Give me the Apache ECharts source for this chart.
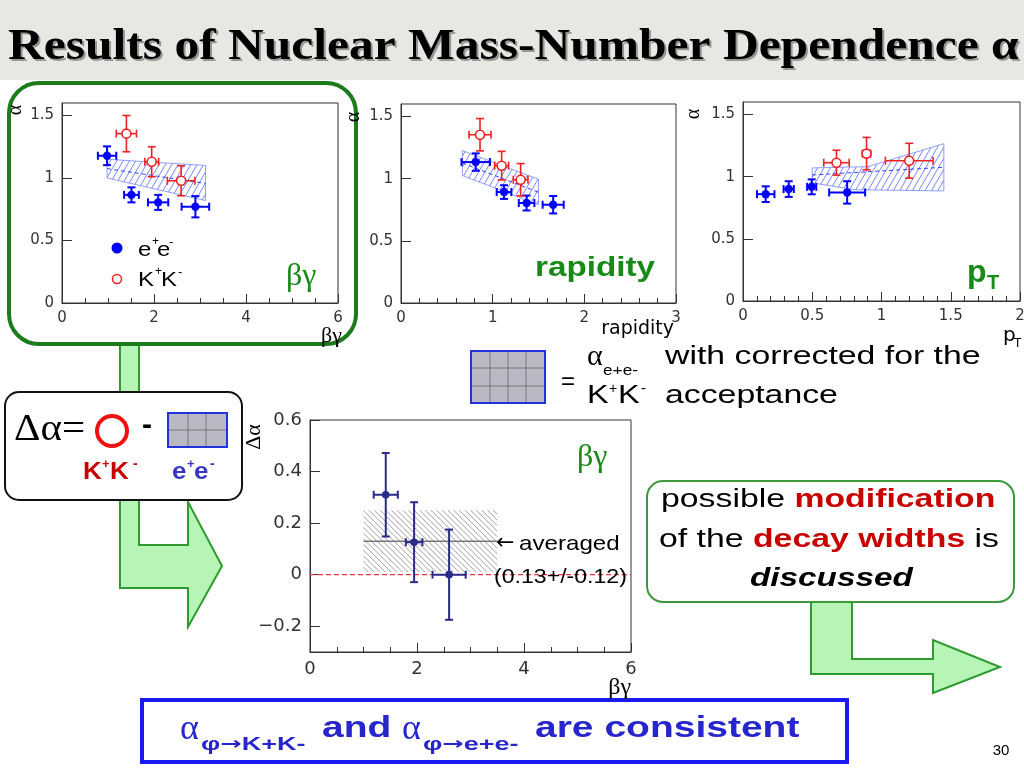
<!DOCTYPE html>
<html><head><meta charset="utf-8">
<script src="https://cdn.jsdelivr.net/npm/echarts@6/dist/echarts.min.js"></script>
<style>html,body{margin:0;padding:0;background:#fff}#c{width:1024px;height:768px}</style>
</head><body><div id="c"></div>
<script>
// ---------- DATA ----------  [x, y, xErr, yErr]
const betaGammaEE = [[0.98,1.178,0.20,0.075],[1.51,0.865,0.16,0.06],[2.09,0.805,0.22,0.06],[2.90,0.77,0.30,0.085]];
const betaGammaKK = [[1.40,1.355,0.22,0.145],[1.95,1.13,0.15,0.12],[2.59,0.978,0.30,0.12]];
const betaGammaBandUpper = [[0.98,1.15],[3.12,1.10]];
const betaGammaBandLower = [[0.98,1.00],[3.12,0.82]];
const betaGammaBandCenter = [[0.98,1.075],[3.12,0.957]];

const rapidityEE = [[0.815,1.133,0.155,0.07],[1.124,0.892,0.08,0.055],[1.37,0.804,0.085,0.06],[1.66,0.79,0.115,0.07]];
const rapidityKK = [[0.862,1.353,0.12,0.13],[1.098,1.104,0.076,0.115],[1.305,0.991,0.08,0.13]];
const rapidityBandUpper = [[0.67,1.225],[1.5,0.995]];
const rapidityBandLower = [[0.67,1.025],[1.5,0.79]];
const rapidityBandCenter = [[0.67,1.125],[1.5,0.89]];

const ptEE = [[0.164,0.859,0.063,0.063],[0.33,0.90,0.037,0.063],[0.496,0.918,0.033,0.06],[0.752,0.873,0.13,0.09]];
const ptKK = [[0.675,1.112,0.092,0.10],[0.892,1.185,0.03,0.13],[1.20,1.128,0.172,0.14]];
const ptBandUpper = [[0.5,1.07],[0.9,1.08],[1.45,1.265]];
const ptBandLower = [[0.5,0.95],[0.8,0.895],[1.45,0.885]];
const ptBandCenter = [[0.5,1.013],[1.45,1.075]];

const deltaAlpha = [[1.416,0.31,0.225,0.162],[1.946,0.126,0.155,0.155],[2.60,0.0,0.31,0.175]];
const averagedValue = 0.13, averagedError = 0.12, averagedRange = [1.0, 3.5];
const zeroLine = [[0,0],[6,0]];

const alphaTicks = [0, 0.5, 1, 1.5];
const deltaTicks = [-0.2, 0, 0.2, 0.4, 0.6];

// ---------- HELPERS ----------
function hatch(poly, angleDeg, spacing){
  const a = angleDeg*Math.PI/180, d = [Math.cos(a), -Math.sin(a)], n = [-d[1], d[0]];
  const cs = poly.map(p => p[0]*n[0]+p[1]*n[1]);
  const cmin = Math.min(...cs), cmax = Math.max(...cs), segs = [];
  for (let c = Math.ceil(cmin/spacing)*spacing; c <= cmax; c += spacing){
    const pts = [];
    for (let i=0;i<poly.length;i++){
      const A = poly[i], B = poly[(i+1)%poly.length];
      const da = A[0]*n[0]+A[1]*n[1]-c, db = B[0]*n[0]+B[1]*n[1]-c;
      if ((da<=0 && db>=0) || (da>=0 && db<=0)){
        if (da === db) continue;
        const t = da/(da-db);
        pts.push([A[0]+(B[0]-A[0])*t, A[1]+(B[1]-A[1])*t]);
      }
    }
    if (pts.length >= 2){
      pts.sort((p,q)=>(p[0]*d[0]+p[1]*d[1])-(q[0]*d[0]+q[1]*d[1]));
      segs.push([pts[0], pts[pts.length-1]]);
    }
  }
  return segs;
}
function bandSeries(gi, upper, lower, opt){
  return {type:'custom', xAxisIndex:gi, yAxisIndex:gi, silent:true, z:2, data:[upper[0]],
    renderItem: function(params, api){
      const poly = upper.concat(lower.slice().reverse()).map(p => api.coord(p));
      const ch = hatch(poly, opt.angle, opt.spacing).map(s => ({type:'line',
        shape:{x1:s[0][0],y1:s[0][1],x2:s[1][0],y2:s[1][1]}, style:{stroke:opt.color, lineWidth:opt.lw}}));
      if (opt.outline) ch.push({type:'polygon', shape:{points:poly}, style:{fill:'none', stroke:opt.outline, lineWidth:0.8}});
      return {type:'group', children:ch};
    }};
}
function errSeries(gi, data, color, open, r, lw){
  return {type:'custom', xAxisIndex:gi, yAxisIndex:gi, silent:true, z:5, data:data, encode:{x:0,y:1},
    renderItem: function(params, api){
      const x=api.value(0), y=api.value(1), ex=api.value(2), ey=api.value(3);
      const c=api.coord([x,y]), l=api.coord([x-ex,y]), rr=api.coord([x+ex,y]), b=api.coord([x,y-ey]), t=api.coord([x,y+ey]);
      const cap=4;
      const seg=(x1,y1,x2,y2)=>({type:'line', shape:{x1,y1,x2,y2}, style:{stroke:color, lineWidth:lw}});
      return {type:'group', children:[
        seg(l[0],c[1],rr[0],c[1]), seg(c[0],b[1],c[0],t[1]),
        seg(l[0],c[1]-cap,l[0],c[1]+cap), seg(rr[0],c[1]-cap,rr[0],c[1]+cap),
        seg(c[0]-cap,b[1],c[0]+cap,b[1]), seg(c[0]-cap,t[1],c[0]+cap,t[1]),
        {type:'circle', shape:{cx:c[0],cy:c[1],r:r}, style: open ? {fill:'#fff', stroke:color, lineWidth:1.6} : {fill:color}}
      ]};
    }};
}
function lineSeries(gi, data, color, width, type){
  return {type:'line', xAxisIndex:gi, yAxisIndex:gi, data:data, symbol:'none', silent:true, z:3,
    lineStyle:{color:color, width:width, type:type}};
}
const AX = '#333';
function xAxis(gi, max, interval, split, fs){
  return {type:'value', gridIndex:gi, min:0, max:max, interval:interval,
    axisLine:{show:true, onZero:false, lineStyle:{color:AX, width:1}},
    axisTick:{show:true, inside:true, length:9, lineStyle:{color:AX}},
    minorTick:{show:true, splitNumber:split, length:5, lineStyle:{color:AX}},
    splitLine:{show:false}, minorSplitLine:{show:false},
    axisLabel:{color:AX, fontSize:fs, fontFamily:'DejaVu Sans', margin:8}};
}
function yAxis(gi, min, max, ticks, fs){
  return {type:'value', gridIndex:gi, min:min, max:max,
    axisLine:{show:true, onZero:false, lineStyle:{color:AX, width:1}},
    axisTick:{show:true, inside:true, length:10, customValues:ticks, lineStyle:{color:AX}},
    splitLine:{show:false},
    axisLabel:{color:AX, fontSize:fs, fontFamily:'DejaVu Sans', margin:8, customValues:ticks,
      formatter: v => String(+v.toFixed(2)).replace('-', '\u2212')}};
}
function T(text, x, y, o){
  o = o || {};
  return {type:'text', x:x, y:y, scaleX:o.sx||1, rotation:o.rot||0, z:100,
    style:{text:text, fill:o.color||'#000',
      font:(o.style||'normal')+' '+(o.weight||'normal')+' '+o.size+'px '+(o.family||'"Liberation Sans"'),
      align:o.align||'left', verticalAlign:o.va||'middle'}};
}
function subscript(text, x, y, color){
  // text like 'φ→K+K-' : arrow drawn with DejaVu for a bolder glyph
  const parts = text.split('\u2192');
  return {type:'text', x:x, y:y, scaleX:1.5, z:100, style:{
    text:'{a|'+parts[0]+'}{b|\u2192}{a|'+parts[1]+'}', align:'left', verticalAlign:'middle',
    font:'bold 18px "Liberation Sans"', fill:color,
    rich:{a:{fontSize:18, fontFamily:'Liberation Sans', fontWeight:'bold', fill:color},
          b:{fontSize:17, fontFamily:'DejaVu Sans', fontWeight:'bold', fill:color}}}};
}
const SERIF = '"Liberation Serif"';
const GREEN = '#178a17', RED = '#c80000', BANNER = '#2626cc';

// ---------- GRAPHICS ----------
const graphics = [
  {type:'rect', shape:{x:0,y:0,width:1024,height:80}, style:{fill:'#e7e7e3'}, z:-10},
  T('Results of Nuclear Mass-Number Dependence \u03b1', 10, 50, {size:44, family:SERIF, weight:'bold', color:'rgba(0,0,0,0.35)', sx:1.125}),
  T('Results of Nuclear Mass-Number Dependence \u03b1', 8, 48, {size:44, family:SERIF, weight:'bold', sx:1.125}),
  // left bent arrow
  {type:'polygon', shape:{points:[[120,345],[139,345],[139,545],[188,545],[188,502],[222,566],[188,627],[188,588],[120,588]]},
    style:{fill:'#b6f5b6', stroke:'#2f9a2f', lineWidth:2}},
  // right bent arrow
  {type:'polygon', shape:{points:[[811,602],[852,602],[852,659],[933,659],[933,640],[1000,667],[933,693],[933,674],[811,674]]},
    style:{fill:'#b6f5b6', stroke:'#2f9a2f', lineWidth:2}},
  // green box around plot 1
  {type:'rect', shape:{x:9,y:83,width:347,height:261,r:30}, style:{fill:'none', stroke:'#1c7c1c', lineWidth:4}, z:50},
  // delta alpha box
  {type:'rect', shape:{x:5,y:392,width:237,height:108,r:14}, style:{fill:'#fff', stroke:'#111', lineWidth:2}},
  T('\u0394\u03b1=', 14, 430, {size:38, family:SERIF, sx:1.08}),
  {type:'circle', shape:{cx:112, cy:431, r:15}, style:{fill:'none', stroke:'#ee1111', lineWidth:4}},
  T('-', 142, 426, {size:30, weight:'bold'}),
  {type:'rect', shape:{x:168,y:413,width:59,height:34}, style:{fill:'#b9b9c6', stroke:'#2233dd', lineWidth:2}},
  {type:'polyline', shape:{points:[[188,414],[188,446]]}, style:{stroke:'#666', lineWidth:0.8}},
  {type:'polyline', shape:{points:[[206,414],[206,446]]}, style:{stroke:'#666', lineWidth:0.8}},
  {type:'polyline', shape:{points:[[169,430],[226,430]]}, style:{stroke:'#666', lineWidth:0.8}},
  T('K', 83, 472, {size:24, weight:'bold', color:RED, sx:1.08}),
  T('+', 102, 464, {size:13, weight:'bold', color:RED}),
  T('K', 110, 472, {size:24, weight:'bold', color:RED, sx:1.08}),
  T('-', 133, 464, {size:14, weight:'bold', color:RED}),
  T('e', 172, 472, {size:24, weight:'bold', color:'#3535c8', sx:1.08}),
  T('+', 187, 464, {size:13, weight:'bold', color:'#3535c8'}),
  T('e', 194, 472, {size:24, weight:'bold', color:'#3535c8', sx:1.08}),
  T('-', 210, 464, {size:14, weight:'bold', color:'#3535c8'}),
  // middle legend
  {type:'rect', shape:{x:471,y:351,width:74,height:52}, style:{fill:'#b9b9c6', stroke:'#2233dd', lineWidth:2}},
  {type:'polyline', shape:{points:[[490,352],[490,402]]}, style:{stroke:'#666', lineWidth:0.8}},
  {type:'polyline', shape:{points:[[508,352],[508,402]]}, style:{stroke:'#666', lineWidth:0.8}},
  {type:'polyline', shape:{points:[[526,352],[526,402]]}, style:{stroke:'#666', lineWidth:0.8}},
  {type:'polyline', shape:{points:[[472,368],[544,368]]}, style:{stroke:'#666', lineWidth:0.8}},
  {type:'polyline', shape:{points:[[472,386],[544,386]]}, style:{stroke:'#666', lineWidth:0.8}},
  T('=', 561, 382, {size:24}),
  T('\u03b1', 587, 357, {size:30, family:SERIF}),
  T('e+e-', 603, 371, {size:15, sx:1.15}),
  T('with corrected for the', 665, 357, {size:26, sx:1.3}),
  T('K', 587, 396, {size:26, sx:1.25}),
  T('+', 609, 389, {size:14}),
  T('K', 618, 396, {size:26, sx:1.25}),
  T('-', 641, 389, {size:15}),
  T('acceptance', 665, 396, {size:26, sx:1.3}),
  // right box
  {type:'rect', shape:{x:647,y:481,width:367,height:121,r:16}, style:{fill:'#fff', stroke:'#3c9a3c', lineWidth:2}},
  {type:'text', x:661, y:500, scaleX:1.3, z:100, style:{text:'{n|possible }{r|modification}', align:'left', verticalAlign:'middle',
     font:'26px "Liberation Sans"', fill:'#000',
     rich:{n:{fontSize:26, fontFamily:'Liberation Sans', fill:'#000'}, r:{fontSize:26, fontFamily:'Liberation Sans', fontWeight:'bold', fill:RED}}}},
  {type:'text', x:659, y:540, scaleX:1.3, z:100, style:{text:'{n|of the }{r|decay widths}{n| is}', align:'left', verticalAlign:'middle',
     font:'26px "Liberation Sans"', fill:'#000',
     rich:{n:{fontSize:26, fontFamily:'Liberation Sans', fill:'#000'}, r:{fontSize:26, fontFamily:'Liberation Sans', fontWeight:'bold', fill:RED}}}},
  T('discussed', 750, 579, {size:26, weight:'bold', style:'italic', sx:1.28}),
  // bottom banner
  {type:'rect', shape:{x:142,y:700,width:705,height:62}, style:{fill:'#fff', stroke:'#1a1af0', lineWidth:4}},
  T('\u03b1', 180, 730, {size:36, family:SERIF, color:BANNER}),
  subscript('\u03c6\u2192K+K-', 201, 745, BANNER),
  T('and', 322, 729, {size:30, weight:'bold', color:BANNER, sx:1.3}),
  T('\u03b1', 402, 730, {size:36, family:SERIF, color:BANNER}),
  subscript('\u03c6\u2192e+e-', 423, 745, BANNER),
  T('are consistent', 535, 729, {size:30, weight:'bold', color:BANNER, sx:1.3}),
  T('30', 1001, 751, {size:15, align:'center'}),
  // plot 1 annotations
  T('\u03b1', 16, 110, {size:20, family:SERIF, rot:Math.PI/2, align:'center'}),
  T('\u03b2\u03b3', 342, 336, {size:22, family:SERIF, align:'right'}),
  T('\u03b2\u03b3', 286, 277, {size:32, family:SERIF, color:GREEN}),
  {type:'circle', shape:{cx:117, cy:248, r:5.5}, style:{fill:'#0000ff'}, z:100},
  {type:'circle', shape:{cx:117, cy:279, r:4.5}, style:{fill:'#fff', stroke:'#ee2222', lineWidth:1.5}, z:100},
  T('e', 138, 250, {size:20, sx:1.2}), T('+', 152, 242, {size:12}), T('e', 157, 250, {size:20, sx:1.2}), T('-', 169, 242, {size:13}),
  T('K', 138, 280, {size:20, sx:1.2}), T('+', 155, 272, {size:12}), T('K', 161, 280, {size:20, sx:1.2}), T('-', 178, 272, {size:13}),
  // plot 2
  T('\u03b1', 354, 117, {size:20, family:SERIF, rot:Math.PI/2, align:'center'}),
  T('rapidity', 674, 329, {size:19, family:'DejaVu Sans', align:'right'}),
  T('rapidity', 535, 269, {size:27, weight:'bold', color:GREEN, sx:1.23}),
  // plot 3
  T('\u03b1', 694, 114, {size:20, family:SERIF, rot:Math.PI/2, align:'center'}),
  T('p', 1003, 336, {size:20, family:'DejaVu Sans'}),
  T('T', 1014, 344, {size:12, family:'DejaVu Sans'}),
  T('p', 967, 273, {size:32, weight:'bold', color:GREEN}),
  T('T', 987, 283, {size:20, weight:'bold', color:GREEN}),
  // plot 4
  T('\u0394\u03b1', 254, 437, {size:22, family:SERIF, rot:Math.PI/2, align:'center'}),
  T('\u03b2\u03b3', 631, 688, {size:24, family:SERIF, align:'right'}),
  T('\u03b2\u03b3', 577, 458, {size:32, family:SERIF, color:GREEN}),
  T('\u2190', 496, 543, {size:22, family:'DejaVu Sans'}),
  T('averaged', 519, 544, {size:21, sx:1.15}),
  T('(0.13+/-0.12)', 494, 577, {size:21, sx:1.1})
];

// ---------- CHART ----------
const avgUpper = averagedRange.map(x => [x, averagedValue + averagedError]);
const avgLower = averagedRange.map(x => [x, averagedValue - averagedError]);
const avgLine = averagedRange.map(x => [x, averagedValue]);

const gridBase = {show:true, borderColor:AX, borderWidth:1, backgroundColor:'transparent', containLabel:false, outerBoundsMode:'none'};
const option = {
  animation:false,
  backgroundColor:'#fff',
  grid:[
    Object.assign({left:62, top:103, width:276, height:200}, gridBase),
    Object.assign({left:401, top:104, width:275, height:199}, gridBase),
    Object.assign({left:743, top:102, width:277, height:199}, gridBase),
    Object.assign({left:310, top:420, width:321, height:232}, gridBase)
  ],
  xAxis:[ xAxis(0,6,2,4,15), xAxis(1,3,1,5,15), xAxis(2,2,0.5,5,15), xAxis(3,6,2,4,18) ],
  yAxis:[ yAxis(0,0,1.6,alphaTicks,15), yAxis(1,0,1.6,alphaTicks,15), yAxis(2,0,1.6,alphaTicks,15), yAxis(3,-0.3,0.6,deltaTicks,18) ],
  series:[
    bandSeries(0, betaGammaBandUpper, betaGammaBandLower, {angle:60, spacing:5.5, color:'#5566ff', lw:0.8, outline:'#7788ff'}),
    lineSeries(0, betaGammaBandCenter, '#3344ee', 1, [4,3]),
    errSeries(0, betaGammaEE, '#0000ff', false, 4.2, 2),
    errSeries(0, betaGammaKK, '#ee2222', true, 4.5, 1.6),
    bandSeries(1, rapidityBandUpper, rapidityBandLower, {angle:60, spacing:5.5, color:'#5566ff', lw:0.8, outline:'#7788ff'}),
    lineSeries(1, rapidityBandCenter, '#3344ee', 1, [4,3]),
    errSeries(1, rapidityEE, '#0000ff', false, 4.2, 2),
    errSeries(1, rapidityKK, '#ee2222', true, 4.5, 1.6),
    bandSeries(2, ptBandUpper, ptBandLower, {angle:60, spacing:5.5, color:'#5566ff', lw:0.8, outline:'#7788ff'}),
    lineSeries(2, ptBandCenter, '#3344ee', 1, [4,3]),
    errSeries(2, ptEE, '#0000ff', false, 4.2, 2),
    errSeries(2, ptKK, '#ee2222', true, 4.5, 1.6),
    bandSeries(3, avgUpper, avgLower, {angle:135, spacing:4, color:'#888', lw:0.8}),
    lineSeries(3, avgLine, '#777', 1.5, 'solid'),
    lineSeries(3, zeroLine, '#ee3344', 1.2, [5,3]),
    errSeries(3, deltaAlpha, '#2a2a88', false, 3.8, 2)
  ],
  graphic:{elements:graphics}
};
const chart = echarts.init(document.getElementById('c'), null, {renderer:'canvas'});
chart.setOption(option);
</script></body></html>
